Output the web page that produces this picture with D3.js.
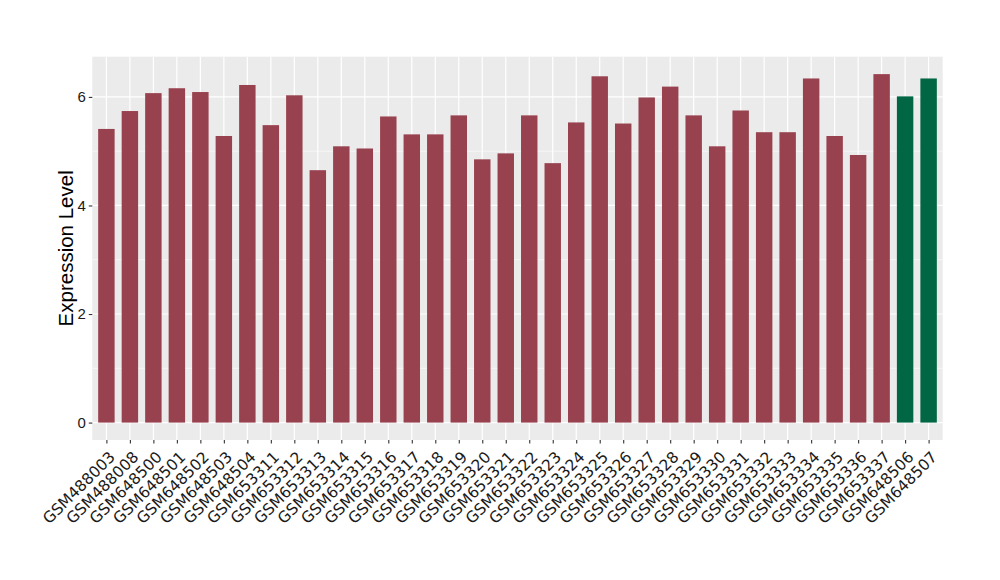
<!DOCTYPE html>
<html><head><meta charset="utf-8">
<script src="https://cdn.jsdelivr.net/npm/d3@7"></script>
<style>body{margin:0;background:#fff;} text{font-family:"Liberation Sans",Arial,sans-serif;}</style>
</head><body>
<svg id="chart" width="1000" height="580"></svg>
<script>
const categories = ["GSM488003","GSM488008","GSM648500","GSM648501","GSM648502","GSM648503","GSM648504","GSM653311","GSM653312","GSM653313","GSM653314","GSM653315","GSM653316","GSM653317","GSM653318","GSM653319","GSM653320","GSM653321","GSM653322","GSM653323","GSM653324","GSM653325","GSM653326","GSM653327","GSM653328","GSM653329","GSM653330","GSM653331","GSM653332","GSM653333","GSM653334","GSM653335","GSM653336","GSM653337","GSM648506","GSM648507"];
const values = [5.41,5.74,6.07,6.16,6.09,5.28,6.22,5.48,6.03,4.65,5.09,5.05,5.64,5.31,5.31,5.66,4.85,4.96,5.66,4.78,5.53,6.38,5.51,5.99,6.19,5.66,5.09,5.75,5.35,5.35,6.34,5.28,4.93,6.42,6.01,6.34];
const groups = ["a","a","a","a","a","a","a","a","a","a","a","a","a","a","a","a","a","a","a","a","a","a","a","a","a","a","a","a","a","a","a","a","a","a","b","b"];
const yTicks = [0,2,4,6];
const yMinor = [1,3,5];
const colors = {a:"#99424f", b:"#006644"};

const svg = d3.select("#chart");
const L = 92.3, R = 942.7, T = 56.7, B = 440;
const maxV = d3.max(values);
const y = d3.scaleLinear().domain([-0.05*maxV, maxV*1.05]).range([B, T]);
const n = categories.length;
const step = (R - L) / (n - 1 + 1.2);
const x = d3.scalePoint().domain(categories).range([L + 0.6*step, R - 0.6*step]);
const bw = step * 0.7;

svg.append("rect").attr("x", L).attr("y", T).attr("width", R-L).attr("height", B-T).attr("fill", "#ebebeb");
svg.selectAll(".minor").data(yMinor).join("line")
  .attr("x1", L).attr("x2", R).attr("y1", d=>y(d)).attr("y2", d=>y(d))
  .attr("stroke", "#fff").attr("stroke-width", 0.6);
svg.selectAll(".major").data(yTicks).join("line")
  .attr("x1", L).attr("x2", R).attr("y1", d=>y(d)).attr("y2", d=>y(d))
  .attr("stroke", "#fff").attr("stroke-width", 1.2);
svg.selectAll(".vg").data(categories).join("line")
  .attr("x1", d=>x(d)).attr("x2", d=>x(d)).attr("y1", T).attr("y2", B)
  .attr("stroke", "#fff").attr("stroke-width", 1.2);

svg.selectAll(".bar").data(categories).join("rect")
  .attr("x", d=>x(d)-bw/2).attr("width", bw)
  .attr("y", (d,i)=>y(values[i])).attr("height", (d,i)=>y(0)-y(values[i]))
  .attr("fill", (d,i)=>colors[groups[i]]);

// y axis
const yAxis = d3.axisLeft(y).tickValues(yTicks).tickSize(3.5).tickPadding(3).tickFormat(d3.format("d"));
const ga = svg.append("g").attr("transform", `translate(${L},0)`).call(yAxis);
ga.select(".domain").remove();
ga.selectAll(".tick line").attr("stroke", "#333").attr("stroke-width", 1.1);
ga.selectAll(".tick text").attr("fill", "#1a1a1a").style("font-size", "15px");

// x axis
const xAxis = d3.axisBottom(x).tickSize(3.5).tickFormat("");
const gx = svg.append("g").attr("transform", `translate(0,${B})`).call(xAxis);
gx.select(".domain").remove();
gx.selectAll(".tick line").attr("stroke", "#333").attr("stroke-width", 1.1);

svg.selectAll(".xl").data(categories).join("text")
  .attr("transform", d=>`translate(${x(d)+9.5},${B+18}) rotate(-45)`)
  .attr("text-anchor", "end")
  .attr("fill", "#1a1a1a").style("font-size", "15.5px").style("font-family", "'DejaVu Sans',sans-serif")
  .text(d=>d);

svg.append("text").attr("transform", `translate(73,${(T+B)/2}) rotate(-90)`)
  .attr("text-anchor", "middle").style("font-size", "20.5px").attr("fill", "#000")
  .text("Expression Level");
</script>
</body></html>
